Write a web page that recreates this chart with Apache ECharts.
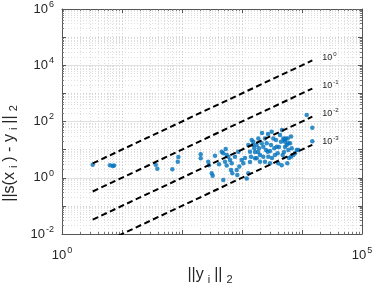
<!DOCTYPE html>
<html><head><meta charset="utf-8">
<script src="https://cdn.jsdelivr.net/npm/echarts@6/dist/echarts.min.js"></script>
<style>html,body{margin:0;padding:0;background:#fff}#c{width:374px;height:286px}</style>
</head><body><div id="c"></div>
<script>
const xVals = [3.25, 6.3, 7.0, 7.4, 36.5, 38.8, 69, 85, 87, 205,
  205, 274, 282, 313, 325, 355, 414, 459, 488, 535,
  556, 488, 521, 556, 591, 631, 673, 656, 689, 764,
  816, 835, 868, 902, 989, 1051, 1198, 1274, 1274, 1360,
  1413, 1452, 1543, 1603, 1648, 1758, 1758, 1870, 1920, 1995,
  1995, 2130, 2265, 2265, 2417, 2417, 2582, 2682, 2744, 2929,
  3041, 3126, 3323, 3454, 3548, 3788, 3936, 4027, 4299, 4467,
  4588, 4768, 4877, 5070, 5210, 5348, 5560, 5776, 5913, 6310,
  6561, 6730, 7161, 7640, 8166, 8670, 11970, 14850, 14850, 2154,
  2712, 3687, 4138, 1648, 1122, 1360, 6072, 3162, 4642, 2512,
  1848, 2929, 5210, 5012, 1525, 5900, 5690, 6561];
const yVals = [2.9, 2.8, 2.6, 2.7, 2.9, 2.1, 2.0, 3.7, 5.5, 6.8,
  4.9, 3.7, 2.8, 1.44, 1.18, 6.1, 3.0, 8.4, 7.4, 10.5,
  6.4, 0.83, 3.7, 2.7, 5.6, 4.3, 3.3, 1.9, 1.44, 5.6,
  1.9, 1.25, 8.4, 2.5, 4.3, 3.3, 0.95, 1.44, 14.6, 8.4,
  5.6, 22, 19, 11.1, 4.9, 14.6, 4.9, 25, 11.1, 6.4,
  3.7, 16.8, 12.7, 5.6, 3.7, 25, 16.8, 8.4, 5.6, 3.3,
  14.6, 43, 25, 11.1, 6.4, 12.7, 7.4, 3.3, 33, 19,
  2.8, 6.4, 25, 22, 19, 25, 14.6, 25, 9.7, 16.8,
  29, 11.1, 6.4, 7.4, 9.7, 9.7, 170, 60, 20, 39,
  36, 22, 12.4, 8.2, 5.0, 3.6, 5.0, 5.0, 50, 9.7,
  8.2, 8.9, 12.4, 8.2, 14.6, 17, 3.3, 5.6];
const refCoefs = [1, 0.1, 0.01, 0.001];
const refLabels = ['0', '-1', '-2', '-3'];
const xLabelExps = [0, 5];
const yLabelExps = [-2, 0, 2, 4, 6];

const FONT = "'Liberation Sans', Arial, Helvetica, sans-serif";
const TXT = '#262626';
const pts = xVals.map((x, i) => [x, yVals[i]]);
const xMin = Math.min(...xVals), xMax = Math.max(...xVals);
const expOf = v => Math.round(Math.log10(v));
const tickRich = {
  b: {fontSize: 13, fontFamily: FONT, color: TXT},
  s: {fontSize: 9, fontFamily: FONT, color: TXT, padding: [0, 0, 9, 1]}
};
const nameRich = {
  n: {fontSize: 16, fontFamily: FONT, color: TXT},
  sub: {fontSize: 11, fontFamily: FONT, color: TXT, padding: [10, 4, 0, 4]}
};
function baseLog(extra) {
  return Object.assign({
    type: 'log', logBase: 10, interval: 1,
    axisLine: {show: true, lineStyle: {color: '#555', width: 1}},
    axisTick: {show: true, inside: true, length: 4, lineStyle: {color: '#555'}},
    minorTick: {show: true, splitNumber: 9, length: 2, lineStyle: {color: '#777'}},
    splitLine: {show: true, lineStyle: {color: '#cfcfcf', type: [1, 2], width: 1}},
    minorSplitLine: {show: true, lineStyle: {color: '#dedede', type: [1, 2], width: 1}},
    axisLabel: {show: false}
  }, extra);
}
const series = [{
  type: 'scatter', data: pts, symbol: 'circle', symbolSize: 4.5,
  itemStyle: {color: '#0072BD'}, z: 3
}];
refCoefs.forEach((c, i) => {
  series.push({
    type: 'line', data: [[xMin, c * xMin], [xMax, c * xMax]],
    symbol: 'none', z: 4,
    lineStyle: {color: '#000', width: 2, type: [6, 3.5]},
    endLabel: {
      show: true, distance: 10, offset: [0, -3],
      formatter: () => '{b|10}{s|' + refLabels[i] + '}',
      rich: {
        b: {fontSize: 9, fontFamily: FONT, color: TXT},
        s: {fontSize: 6, fontFamily: FONT, color: TXT, padding: [0, 0, 6, 1]}
      }
    }
  });
});
const chart = echarts.init(document.getElementById('c'), null, {renderer: 'canvas'});
chart.setOption({
  animation: false,
  backgroundColor: '#fff',
  grid: {left: 62, top: 9, width: 300, height: 225, containLabel: false, outerBoundsMode: 'none'},
  xAxis: [
    baseLog({
      min: 1, max: 1e5, position: 'bottom',
      axisLabel: {show: true, margin: 12,
        formatter: v => xLabelExps.includes(expOf(v)) ? '{b|10}{s|' + expOf(v) + '}' : '',
        rich: tickRich},
      name: '{n|||y}{sub|i}{n|||}{sub|2}', nameLocation: 'middle', nameGap: 30,
      nameTextStyle: {rich: nameRich}
    }),
    baseLog({min: 1, max: 1e5, position: 'top', splitLine: {show: false}, minorSplitLine: {show: false}})
  ],
  yAxis: [
    baseLog({
      min: 0.01, max: 1e6, position: 'left',
      axisLabel: {show: true, margin: 8,
        formatter: v => yLabelExps.includes(expOf(v)) ? '{b|10}{s|' + expOf(v) + '}' : '',
        rich: tickRich},
      name: '{n|||s(x}{sub|i}{n|) - y}{sub|i}{n|||}{sub|2}', nameLocation: 'middle', nameGap: 41,
      nameRotate: 90,
      nameTextStyle: {rich: nameRich, padding: [0, 60, 0, 0]}
    }),
    {
      type: 'log', logBase: 10, min: 0.01, max: 1e6, interval: 2, position: 'left',
      axisLine: {show: false}, axisTick: {show: false}, axisLabel: {show: false},
      splitLine: {show: true, lineStyle: {color: '#e0e0e0', type: 'solid', width: 1}}
    },
    baseLog({min: 0.01, max: 1e6, position: 'right', splitLine: {show: false}, minorSplitLine: {show: false}})
  ],
  series: series
});
</script></body></html>
